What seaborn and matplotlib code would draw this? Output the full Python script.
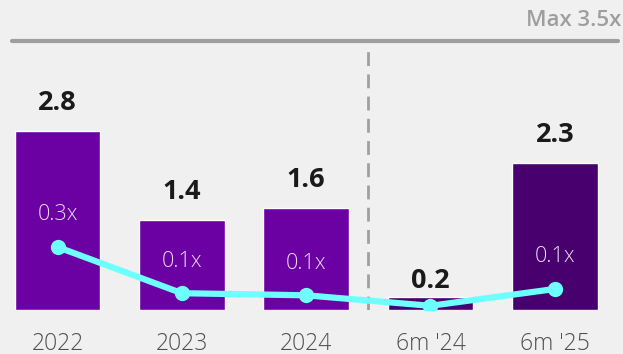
import numpy as np
import pandas as pd
import matplotlib
matplotlib.use("Agg")
import matplotlib.pyplot as plt
import seaborn as sns

# Net debt (bars) and leverage multiple (line) by period
periods = ["2022", "2023", "2024", "6m '24", "6m '25"]
net_debt = [2.8, 1.4, 1.6, 0.2, 2.3]
leverage = [0.30, 0.08, 0.07, 0.02, 0.10]
leverage_labels = ["0.3x", "0.1x", "0.1x", None, "0.1x"]
bar_colors = ["#6B00A3", "#6B00A3", "#6B00A3", "#48006E", "#48006E"]
covenant_label = "Max 3.5x"

sns.set_theme(style="white")
plt.rcParams["font.family"] = ["Open Sans", "DejaVu Sans"]

bg = "#F0F0F0"
fig = plt.figure(figsize=(6.23, 3.54), dpi=100, facecolor=bg)
ax = fig.add_axes([0, 44 / 354, 1, 310 / 354])
ax.set_facecolor(bg)

df = pd.DataFrame({"period": periods, "net_debt": net_debt, "leverage": leverage})

sns.barplot(data=df, x="period", y="net_debt", hue="period", palette=bar_colors,
            legend=False, width=0.69, saturation=1, ax=ax)

ax.set_xlim(-0.4626, 4.549)
ax.set_ylim(0, 310 / 64)

# value labels above bars (closer for very short bars so they clear the line)
for i, v in enumerate(net_debt):
    off = 16 if v < 0.5 else 28
    ax.annotate(f"{v:.1f}", (i, v), xytext=(0, off), textcoords="offset pixels",
                ha="center", va="center", fontsize=19.5, fontweight="bold",
                color="#1A1A1A")

# covenant reference line and separator
ax.axhline(4.2, xmin=12 / 623, xmax=618 / 623, color="#9E9E9E", lw=3)
ax.text(621 / 623, 1 - 20 / 310, covenant_label, transform=ax.transAxes,
        ha="right", va="center", fontsize=16, fontweight="semibold",
        color="#9E9E9E")
ax.vlines(2.5, 0, 4.15, colors="#A0A0A0", lw=2, linestyles=(0, (5, 3)))

# leverage line on a secondary scale
ax2 = ax.twinx()
x_pos = np.arange(len(periods))
sns.lineplot(x=x_pos, y=leverage, ax=ax2, color="#6EFFFF", lw=4.5, marker="o",
             markersize=11, markeredgewidth=0)
ax2.set_ylim(0, 310 / 210)
ax2.set_xlim(-0.4626, 4.549)
for i, (v, lab) in enumerate(zip(leverage, leverage_labels)):
    if lab:
        ax2.annotate(lab, (i, v), xytext=(0, 32), textcoords="offset pixels",
                     ha="center", va="center", fontsize=15.5, fontweight="light",
                     color="#EBDDF3")

for a in (ax, ax2):
    for s in a.spines.values():
        s.set_visible(False)
    a.set_ylabel("")
    a.set_xlabel("")
ax2.set_yticks([])
ax.set_yticks([])
ax.set_xticks(x_pos)
ax.set_xticklabels(periods)
ax.tick_params(axis="x", length=0, pad=15.5, labelsize=16.5, labelcolor="#4F4F4F")
for t in ax.get_xticklabels():
    t.set_fontweight("light")

fig.savefig("out.png", dpi=100, facecolor=bg)
